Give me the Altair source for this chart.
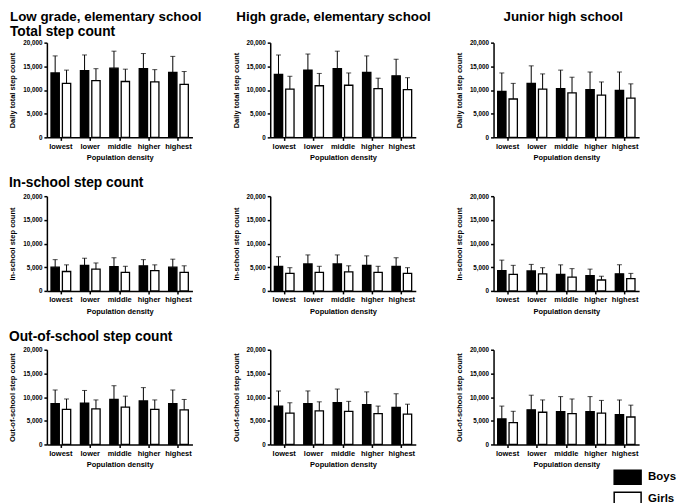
import altair as alt
import pandas as pd

densities = ["lowest", "lower", "middle", "higher", "highest"]
sexes = ["Boys", "Girls"]
school_groups = ["Low grade, elementary school", "High grade, elementary school", "Junior high school"]
measures = ["Total step count", "In-school step count", "Out-of-school step count"]
axis_titles = ["Daily total step count", "In-school step count", "Out-of-school step count"]
y_ticks = [0, 5000, 10000, 15000, 20000]

# Total step count: means and SDs
total_low_boys = [13600, 14100, 14600, 14500, 13700]
total_low_boys_sd = [3600, 3300, 3600, 3200, 3400]
total_low_girls = [11400, 12000, 11800, 11700, 11200]
total_low_girls_sd = [2800, 2500, 2600, 2600, 2700]
total_high_boys = [13300, 14200, 14500, 13700, 13000]
total_high_boys_sd = [4100, 3400, 3700, 3500, 3500]
total_high_girls = [10200, 10900, 11000, 10300, 10100]
total_high_girls_sd = [2700, 2600, 2600, 2200, 2500]
total_jhs_boys = [9700, 11400, 10300, 10100, 9900]
total_jhs_boys_sd = [3900, 3700, 3900, 3700, 3900]
total_jhs_girls = [8100, 10200, 9400, 8900, 8300]
total_jhs_girls_sd = [3300, 3200, 3300, 2800, 3000]

# In-school step count
in_low_boys = [5000, 5400, 5100, 5300, 5000]
in_low_boys_sd = [1600, 1500, 1900, 1300, 1700]
in_low_girls = [4100, 4600, 3900, 4300, 3900]
in_low_girls_sd = [1400, 1300, 1300, 1200, 1400]
in_high_boys = [5200, 5700, 5700, 5400, 5200]
in_high_boys_sd = [2000, 1900, 1900, 2000, 1800]
in_high_girls = [3700, 3900, 4000, 3900, 3700]
in_high_girls_sd = [1200, 1300, 1300, 1300, 1200]
in_jhs_boys = [4300, 4200, 3500, 3200, 3600]
in_jhs_boys_sd = [2200, 1400, 2000, 1400, 1900]
in_jhs_girls = [3500, 3600, 2900, 2300, 2600]
in_jhs_girls_sd = [1900, 1300, 1800, 800, 1100]

# Out-of-school step count
out_low_boys = [8600, 8700, 9500, 9200, 8600]
out_low_boys_sd = [2900, 2700, 2900, 2800, 2900]
out_low_girls = [7400, 7500, 7900, 7400, 7300]
out_low_girls_sd = [2200, 1900, 2300, 2000, 2200]
out_high_boys = [8100, 8600, 8800, 8400, 7800]
out_high_boys_sd = [3200, 2700, 2900, 2700, 2900]
out_high_girls = [6600, 7100, 7000, 6500, 6400]
out_high_girls_sd = [2200, 1900, 2100, 1600, 2100]
out_jhs_boys = [5400, 7300, 6900, 6900, 6300]
out_jhs_boys_sd = [2700, 3100, 3200, 3200, 3100]
out_jhs_girls = [4600, 6800, 6500, 6600, 5800]
out_jhs_girls_sd = [2400, 2600, 3100, 2700, 2500]

series = {
    (0, 0): (total_low_boys, total_low_boys_sd, total_low_girls, total_low_girls_sd),
    (0, 1): (total_high_boys, total_high_boys_sd, total_high_girls, total_high_girls_sd),
    (0, 2): (total_jhs_boys, total_jhs_boys_sd, total_jhs_girls, total_jhs_girls_sd),
    (1, 0): (in_low_boys, in_low_boys_sd, in_low_girls, in_low_girls_sd),
    (1, 1): (in_high_boys, in_high_boys_sd, in_high_girls, in_high_girls_sd),
    (1, 2): (in_jhs_boys, in_jhs_boys_sd, in_jhs_girls, in_jhs_girls_sd),
    (2, 0): (out_low_boys, out_low_boys_sd, out_low_girls, out_low_girls_sd),
    (2, 1): (out_high_boys, out_high_boys_sd, out_high_girls, out_high_girls_sd),
    (2, 2): (out_jhs_boys, out_jhs_boys_sd, out_jhs_girls, out_jhs_girls_sd),
}

FONT = "Liberation Sans"
W, H = 146, 95
HEADER_SIZE = 13.4
ROW_SIZE = 13.8


def panel_data(r, c):
    bm, bs, gm, gs = series[(r, c)]
    rows = []
    for i, d in enumerate(densities):
        rows.append({"density": d, "sex": "Boys", "mean": bm[i], "top": bm[i] + bs[i]})
        rows.append({"density": d, "sex": "Girls", "mean": gm[i], "top": gm[i] + gs[i]})
    return pd.DataFrame(rows)


def panel_title(r, c):
    common = dict(anchor="start", frame="group", font=FONT, fontWeight="bold",
                  color="black", subtitleFont=FONT, subtitleFontWeight="bold",
                  subtitleFontSize=ROW_SIZE, subtitleColor="black")
    if r == 0:
        sub = measures[0] if c == 0 else " "
        dx = [-37, -34, 10][c]
        return alt.TitleParams(text=school_groups[c], subtitle=sub, dx=dx, fontSize=HEADER_SIZE,
                               subtitlePadding=2, offset=1, **common)
    if c == 0:
        return alt.TitleParams(text=measures[r], dx=-38, fontSize=ROW_SIZE, offset=3, **common)
    return None


def panel(r, c):
    base = alt.Chart(panel_data(r, c)).encode(
        x=alt.X("density:N", sort=densities,
                scale=alt.Scale(paddingInner=0.33, paddingOuter=0.14),
                axis=alt.Axis(title="Population density", labelAngle=0)),
        xOffset=alt.XOffset("sex:N", sort=sexes,
                            scale=alt.Scale(paddingInner=0.27, paddingOuter=0)),
    )
    yscale = alt.Scale(domain=[0, 20000], nice=False)
    yaxis = alt.Axis(title=axis_titles[r], values=y_ticks, format=",d")
    bars = base.mark_bar(stroke="black", strokeWidth=1.3).encode(
        y=alt.Y("mean:Q", scale=yscale, axis=yaxis),
        fill=alt.Fill("sex:N", sort=sexes,
                      scale=alt.Scale(domain=sexes, range=["black", "white"]),
                      legend=alt.Legend(title=None, orient="none", legendX=571.5, legendY=425,
                                        symbolType="M-1.35,-0.7L1.35,-0.7L1.35,0.7L-1.35,0.7Z",
                                        symbolSize=400, symbolStrokeColor="black",
                                        symbolStrokeWidth=1.5, labelFont=FONT,
                                        labelFontWeight="bold", labelFontSize=11.5,
                                        labelColor="black", labelOffset=9.5,
                                        rowPadding=1, padding=0)),
    )
    err = base.mark_rule(color="black", strokeWidth=1).encode(
        y=alt.Y("mean:Q", scale=yscale, axis=yaxis), y2="top:Q")
    caps = base.mark_tick(color="black", size=5, thickness=1).encode(
        y=alt.Y("top:Q", scale=yscale, axis=yaxis))
    props = dict(width=W, height=H)
    t = panel_title(r, c)
    if t is not None:
        props["title"] = t
    return alt.layer(bars, err, caps).properties(**props)


panels = [panel(r, c) for r in range(3) for c in range(3)]

chart = alt.concat(
    *panels, columns=3, bounds="flush",
    spacing=alt.RowColnumber(row=59, column=78),
).resolve_scale(fill="shared").resolve_legend(
    fill="shared"
).properties(padding=0).configure_view(stroke=None).configure_axis(
    grid=False,
    domainColor="black", domainWidth=1.5,
    tickColor="black", tickWidth=1.5, tickSize=3,
    labelFont=FONT, labelFontWeight="bold", labelColor="black",
    titleFont=FONT, titleFontWeight="bold", titleColor="black", titleFontSize=7.5,
    labelPadding=2,
).configure_axisY(labelFontSize=6.3, titlePadding=6).configure_axisX(
    labelFontSize=7.5, titlePadding=4
)

chart.save("out.html", embed_options={"renderer": "svg", "actions": False})
